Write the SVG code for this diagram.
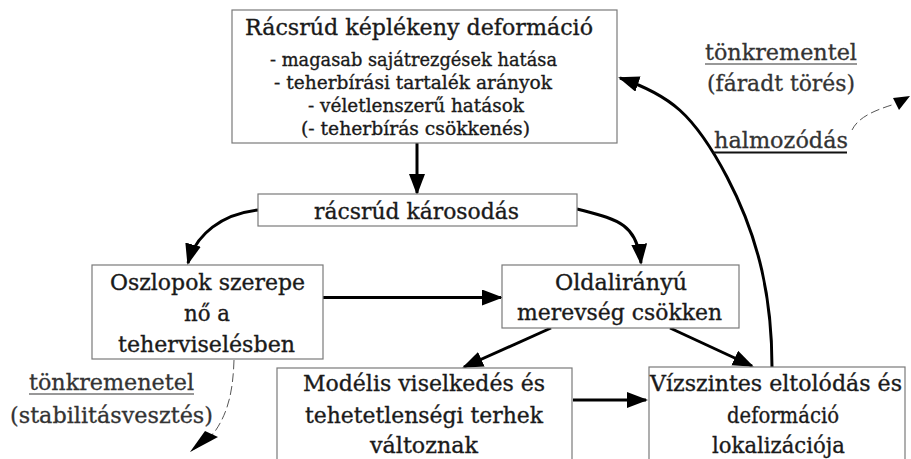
<svg xmlns="http://www.w3.org/2000/svg" width="911" height="459" viewBox="0 0 911 459">
<style>
  .box { fill: #ffffff; stroke: #7a7a7a; stroke-width: 1.2; }
  .t { font-family: "DejaVu Serif", "Liberation Serif", serif; fill: #1a1a1a; stroke: #1a1a1a; stroke-width: 0.35; }
  .big { font-size: 22px; }
  .title { font-size: 22.5px; }
  .small { font-size: 19px; }
  .lbl { font-family: "DejaVu Serif", "Liberation Serif", serif; font-size: 22px; fill: #333333; stroke: #333333; stroke-width: 0.3; }
  .conn { fill: none; stroke: #000000; stroke-width: 3; }
  .dash { fill: none; stroke: #555555; stroke-width: 1; stroke-dasharray: 9 4; }
  .ul { stroke: #333333; stroke-width: 1.2; }
</style>
<defs>
  <marker id="ah" markerUnits="userSpaceOnUse" markerWidth="22" markerHeight="18" refX="19" refY="8" orient="auto">
    <path d="M0,0 L21,8 L0,16 Z" fill="#000000"/>
  </marker>
</defs>
<rect width="911" height="459" fill="#ffffff"/>

<g id="connectors">
  <path class="conn" d="M417,143 L417,193" marker-end="url(#ah)"/>
  <path class="conn" d="M258,210 C222,214 196,234 188,263" marker-end="url(#ah)"/>
  <path class="conn" d="M577,209 C615,219 637,222 641,263" marker-end="url(#ah)"/>
  <path class="conn" d="M323,297.5 L501,297.5" marker-end="url(#ah)"/>
  <path class="conn" d="M551,328 L464,367" marker-end="url(#ah)"/>
  <path class="conn" d="M670,328 L752,366" marker-end="url(#ah)"/>
  <path class="conn" d="M573,400 L646,400" marker-end="url(#ah)"/>
  <path class="conn" d="M772,367 C772,300 760,240 727,177 S670,95 620,78" marker-end="url(#ah)"/>
  <path class="dash" d="M234,360 C233,392 228,416 210,438"/>
  <path d="M213,433 L190,452 L206,442 Z" fill="#000000"/>
  <path d="M218,437 L190,452 L205,431 Z" fill="#000000"/>
  <path class="dash" d="M852,130 C858,118 872,111 895,104"/>
  <path d="M893,98 L910,96 L899,110 Z" fill="#000000"/>
</g>

<g id="node-top">
  <rect class="box" x="232" y="10" width="385" height="133"/>
  <text class="t title" x="245" y="35" textLength="348" lengthAdjust="spacingAndGlyphs">Rácsrúd képlékeny deformáció</text>
  <text class="t small" x="270" y="66" textLength="287" lengthAdjust="spacingAndGlyphs">- magasab sajátrezgések hatása</text>
  <text class="t small" x="274" y="89" textLength="278" lengthAdjust="spacingAndGlyphs">- teherbírási tartalék arányok</text>
  <text class="t small" x="308" y="112" textLength="216" lengthAdjust="spacingAndGlyphs">- véletlenszerű hatások</text>
  <text class="t small" x="301" y="135" textLength="229" lengthAdjust="spacingAndGlyphs">(- teherbírás csökkenés)</text>
</g>

<g id="node-damage">
  <rect class="box" x="258" y="194" width="319" height="32"/>
  <text class="t big" x="314" y="219" textLength="205" lengthAdjust="spacingAndGlyphs">rácsrúd károsodás</text>
</g>

<g id="node-columns">
  <rect class="box" x="92" y="265" width="231" height="94"/>
  <text class="t big" x="110" y="290" textLength="195" lengthAdjust="spacingAndGlyphs">Oszlopok szerepe</text>
  <text class="t big" x="184" y="321" textLength="46" lengthAdjust="spacingAndGlyphs">nő a</text>
  <text class="t big" x="118" y="352" textLength="177" lengthAdjust="spacingAndGlyphs">teherviselésben</text>
</g>

<g id="node-stiffness">
  <rect class="box" x="502" y="265" width="237" height="63"/>
  <text class="t big" x="555" y="290" textLength="132" lengthAdjust="spacingAndGlyphs">Oldalirányú</text>
  <text class="t big" x="517" y="320" textLength="205" lengthAdjust="spacingAndGlyphs">merevség csökken</text>
</g>

<g id="node-modal">
  <rect class="box" x="277" y="368" width="295" height="100"/>
  <text class="t big" x="303" y="391" textLength="242" lengthAdjust="spacingAndGlyphs">Modélis viselkedés és</text>
  <text class="t big" x="305" y="423" textLength="238" lengthAdjust="spacingAndGlyphs">tehetetlenségi terhek</text>
  <text class="t big" x="370" y="453" textLength="108" lengthAdjust="spacingAndGlyphs">változnak</text>
</g>

<g id="node-drift">
  <rect class="box" x="649" y="367" width="256" height="100"/>
  <text class="t big" x="650" y="391" textLength="252" lengthAdjust="spacingAndGlyphs">Vízszintes eltolódás és</text>
  <text class="t big" x="727" y="423" textLength="112" lengthAdjust="spacingAndGlyphs">deformáció</text>
  <text class="t big" x="712" y="453" textLength="133" lengthAdjust="spacingAndGlyphs">lokalizációja</text>
</g>

<g id="label-fatigue">
  <text class="lbl" x="705" y="60" textLength="152" lengthAdjust="spacingAndGlyphs">tönkrementel</text>
  <line class="ul" x1="705" y1="64" x2="857" y2="64"/>
  <text class="lbl" x="707" y="91" textLength="148" lengthAdjust="spacingAndGlyphs">(fáradt törés)</text>
</g>

<g id="label-accumulation">
  <text class="lbl" x="714" y="148" textLength="134" lengthAdjust="spacingAndGlyphs">halmozódás</text>
  <line x1="713" y1="152.5" x2="847" y2="152.5" stroke="#111111" stroke-width="2"/>
</g>

<g id="label-stability">
  <text class="lbl" x="29" y="390" textLength="165" lengthAdjust="spacingAndGlyphs">tönkremenetel</text>
  <line class="ul" x1="29" y1="394" x2="194" y2="394"/>
  <text class="lbl" x="10" y="423" textLength="203" lengthAdjust="spacingAndGlyphs">(stabilitásvesztés)</text>
</g>
</svg>
